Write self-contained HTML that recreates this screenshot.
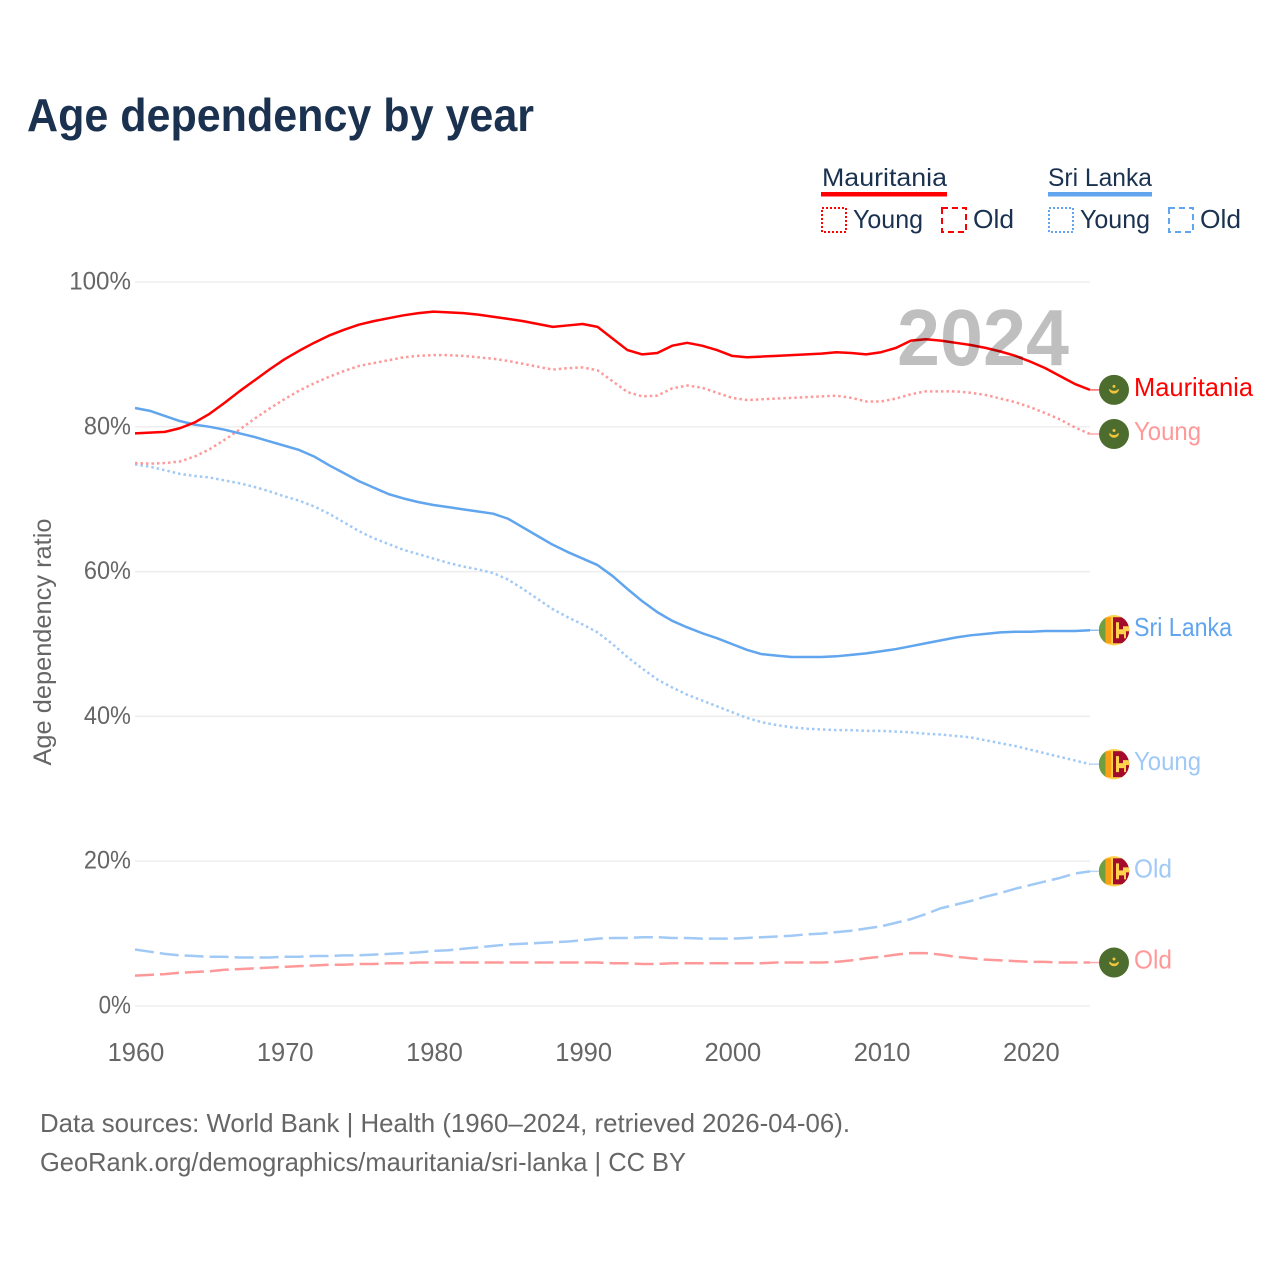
<!DOCTYPE html>
<html lang="en">
<head>
<meta charset="utf-8">
<title>Age dependency by year</title>
<style>
html,body{margin:0;padding:0;background:#fff;}
svg{display:block;font-family:"Liberation Sans",sans-serif;}
</style>
</head>
<body>
<svg id="chart" width="1280" height="1280" viewBox="0 0 1280 1280">
  <text x="27" y="131" font-size="46" font-weight="700" fill="#1a3250" textLength="507" lengthAdjust="spacingAndGlyphs">Age dependency by year</text>

  <g>
    <text x="822" y="186" font-size="25" fill="#1a3250" textLength="125" lengthAdjust="spacingAndGlyphs">Mauritania</text>
    <rect x="821" y="192" width="126" height="4.5" fill="#ff0000"/>
    <rect x="822" y="208" width="24" height="24" fill="none" stroke="#ff0000" stroke-width="2" stroke-dasharray="2 2"/>
    <text x="853" y="228" font-size="26" fill="#1a3250" textLength="70" lengthAdjust="spacingAndGlyphs">Young</text>
    <rect x="942" y="208" width="24" height="24" fill="none" stroke="#ff0000" stroke-width="2" stroke-dasharray="6 4"/>
    <text x="973" y="228" font-size="26" fill="#1a3250" textLength="41" lengthAdjust="spacingAndGlyphs">Old</text>

    <text x="1048" y="186" font-size="25" fill="#1a3250" textLength="104" lengthAdjust="spacingAndGlyphs">Sri Lanka</text>
    <rect x="1048" y="192" width="104" height="4.5" fill="#60a5ee"/>
    <rect x="1049" y="208" width="24" height="24" fill="none" stroke="#60a5ee" stroke-width="2" stroke-dasharray="2 2"/>
    <text x="1080" y="228" font-size="26" fill="#1a3250" textLength="70" lengthAdjust="spacingAndGlyphs">Young</text>
    <rect x="1169" y="208" width="24" height="24" fill="none" stroke="#60a5ee" stroke-width="2" stroke-dasharray="6 4"/>
    <text x="1200" y="228" font-size="26" fill="#1a3250" textLength="41" lengthAdjust="spacingAndGlyphs">Old</text>
  </g>

  <text transform="translate(51,642) rotate(-90)" text-anchor="middle" font-size="25" fill="#666666" textLength="247" lengthAdjust="spacingAndGlyphs">Age dependency ratio</text>

  <g id="grid"></g>
  <g id="yticks"></g>
  <g id="xticks"></g>
  <g id="series"></g>

  <text x="897" y="365" font-size="80" font-weight="700" fill="#000000" fill-opacity="0.25" textLength="172" lengthAdjust="spacingAndGlyphs">2024</text>

  <g id="endpoints"></g>

  <text x="40" y="1132" font-size="26" fill="#666666" textLength="810" lengthAdjust="spacingAndGlyphs">Data sources: World Bank | Health (1960–2024, retrieved 2026-04-06).</text>
  <text x="40" y="1171" font-size="26" fill="#666666" textLength="646" lengthAdjust="spacingAndGlyphs">GeoRank.org/demographics/mauritania/sri-lanka | CC BY</text>
</svg>
<script>
const startYear = 1960;
const yTickValues = [0, 20, 40, 60, 80, 100];
const yTickLabels = ['0%', '20%', '40%', '60%', '80%', '100%'];
const xTickLabels = [1960, 1970, 1980, 1990, 2000, 2010, 2020];

const mauritaniaTotal = [79.1,79.2,79.3,79.8,80.6,81.8,83.3,84.9,86.4,87.9,89.3,90.5,91.6,92.6,93.4,94.1,94.6,95.0,95.4,95.7,95.9,95.8,95.7,95.5,95.2,94.9,94.6,94.2,93.8,94.0,94.2,93.8,92.2,90.6,90.0,90.2,91.2,91.6,91.2,90.6,89.8,89.6,89.7,89.8,89.9,90.0,90.1,90.3,90.2,90.0,90.3,90.9,91.9,92.1,91.9,91.6,91.3,90.9,90.4,89.8,89.0,88.1,87.0,85.9,85.1];
const mauritaniaYoung = [75.0,74.9,75.0,75.2,75.9,76.9,78.2,79.6,81.1,82.5,83.8,85.0,86.0,86.9,87.7,88.4,88.8,89.2,89.6,89.8,89.9,89.9,89.8,89.6,89.4,89.1,88.7,88.3,87.9,88.1,88.2,87.8,86.3,84.8,84.2,84.3,85.3,85.7,85.4,84.7,84.0,83.7,83.8,83.9,84.0,84.1,84.2,84.3,84.0,83.5,83.5,83.9,84.5,84.9,84.9,84.9,84.7,84.4,83.9,83.4,82.7,81.9,81.0,79.9,79.0];
const mauritaniaOld = [4.2,4.3,4.4,4.6,4.7,4.8,5.0,5.1,5.2,5.3,5.4,5.5,5.6,5.7,5.7,5.8,5.8,5.9,5.9,6.0,6.0,6.0,6.0,6.0,6.0,6.0,6.0,6.0,6.0,6.0,6.0,6.0,5.9,5.9,5.8,5.8,5.9,5.9,5.9,5.9,5.9,5.9,5.9,6.0,6.0,6.0,6.0,6.1,6.3,6.6,6.8,7.1,7.3,7.3,7.1,6.8,6.6,6.4,6.3,6.2,6.1,6.1,6.0,6.0,6.0];
const sriLankaTotal = [82.6,82.2,81.5,80.8,80.3,80.0,79.6,79.1,78.6,78.0,77.4,76.8,75.9,74.7,73.6,72.5,71.6,70.7,70.1,69.6,69.2,68.9,68.6,68.3,68.0,67.3,66.1,64.9,63.7,62.7,61.8,60.9,59.4,57.6,55.9,54.4,53.2,52.3,51.5,50.8,50.0,49.2,48.6,48.4,48.2,48.2,48.2,48.3,48.5,48.7,49.0,49.3,49.7,50.1,50.5,50.9,51.2,51.4,51.6,51.7,51.7,51.8,51.8,51.8,51.9];
const sriLankaYoung = [74.8,74.5,74.0,73.5,73.2,73.0,72.6,72.2,71.7,71.1,70.4,69.8,69.0,68.0,66.8,65.6,64.6,63.8,63.0,62.4,61.8,61.2,60.7,60.3,59.8,58.9,57.6,56.2,54.8,53.7,52.7,51.6,50.0,48.2,46.6,45.1,44.0,43.0,42.2,41.4,40.6,39.8,39.2,38.8,38.5,38.3,38.2,38.1,38.1,38.0,38.0,37.9,37.8,37.6,37.5,37.3,37.1,36.7,36.3,35.9,35.4,34.9,34.4,33.9,33.4];
const sriLankaOld = [7.8,7.5,7.2,7.0,6.9,6.8,6.8,6.7,6.7,6.7,6.8,6.8,6.9,6.9,7.0,7.0,7.1,7.2,7.3,7.4,7.6,7.7,7.9,8.1,8.3,8.5,8.6,8.7,8.8,8.9,9.1,9.3,9.4,9.4,9.5,9.5,9.4,9.4,9.3,9.3,9.3,9.4,9.5,9.6,9.7,9.9,10.0,10.2,10.4,10.7,11.0,11.5,12.0,12.7,13.5,14.0,14.5,15.1,15.6,16.2,16.7,17.2,17.7,18.3,18.6];

const NS = 'http://www.w3.org/2000/svg';
const xScale = function (year) { return 135 + (year - 1960) * (955 / 64); };
const yScale = function (v) { return 1006 - v * 7.24; };

function mk(parent, tag, attrs) {
  const el = document.createElementNS(NS, tag);
  Object.keys(attrs).forEach(function (k) { el.setAttribute(k, attrs[k]); });
  parent.appendChild(el);
  return el;
}

const gridG = document.getElementById('grid');
const yG = document.getElementById('yticks');
const xG = document.getElementById('xticks');
const seriesG = document.getElementById('series');
const endG = document.getElementById('endpoints');

yTickValues.forEach(function (v, i) {
  const line = mk(gridG, 'line', {x1: 135, x2: 1090, y1: yScale(v), y2: yScale(v), stroke: '#eeeeee', 'stroke-width': 1.5});
  
  
  const t = mk(yG, 'text', {x: 131, y: yScale(v) + 7.5, 'text-anchor': 'end', 'font-size': 25, fill: '#666666', textLength: 14.7 * String(yTickLabels[i]).length + 3, lengthAdjust: 'spacingAndGlyphs'});
  t.textContent = yTickLabels[i];
  
  
});

xTickLabels.forEach(function (yr) {
  const t = mk(xG, 'text', {x: xScale(yr) + 1, y: 1061, 'text-anchor': 'middle', 'font-size': 25.5, fill: '#666666'});
  t.textContent = yr;
  
  
});

function drawLine(values, color, dash, name) {
  const d = values.map(function (v, i) {
    return (i ? 'L' : 'M') + xScale(startYear + i).toFixed(2) + ' ' + yScale(v).toFixed(2);
  }).join(' ');
  const attrs = {d: d, fill: 'none', stroke: color, 'stroke-width': 2.5, 'stroke-linejoin': 'round'};
  if (dash) attrs['stroke-dasharray'] = dash;
  const p = mk(seriesG, 'path', attrs);
  
  
}

drawLine(sriLankaOld, '#a0c9f5', '19 6', 'line-sri-lanka-old');
drawLine(mauritaniaOld, '#ff9999', '19 6', 'line-mauritania-old');
drawLine(sriLankaYoung, '#a0c9f5', '2.5 3', 'line-sri-lanka-young');
drawLine(mauritaniaYoung, '#ff9999', '2.5 3', 'line-mauritania-young');
drawLine(sriLankaTotal, '#60a5ee', null, 'line-sri-lanka-total');
drawLine(mauritaniaTotal, '#ff0000', null, 'line-mauritania-total');

let clipCount = 0;
function flagMauritania(cy) {
  const g = mk(endG, 'g', {});
  
  
  mk(g, 'circle', {cx: 1114, cy: cy, r: 15, fill: '#4d6d2e'});
  mk(g, 'path', {d: 'M1109.5 ' + (cy - 0.5) + ' a4.6 4.6 0 0 0 9 0 a5.8 5.8 0 0 1 -9 0 Z', fill: '#f2c53d', stroke: '#f2c53d', 'stroke-width': 1.2});
  mk(g, 'circle', {cx: 1114, cy: cy - 3.5, r: 1.5, fill: '#f2c53d'});
}
function flagSriLanka(cy) {
  clipCount += 1;
  const id = 'flag-clip-' + clipCount;
  const cp = mk(endG, 'clipPath', {id: id});
  mk(cp, 'circle', {cx: 1114, cy: cy, r: 15.2});
  const g = mk(endG, 'g', {'clip-path': 'url(#' + id + ')'});
  
  
  mk(g, 'rect', {x: 1098, y: cy - 16, width: 32, height: 32, fill: '#fdd34e'});
  mk(g, 'rect', {x: 1099, y: cy - 13, width: 6.7, height: 26, fill: '#6e9f40'});
  mk(g, 'rect', {x: 1106, y: cy - 13, width: 5.2, height: 26, fill: '#ff9e15'});
  mk(g, 'rect', {x: 1113, y: cy - 13, width: 17, height: 26, fill: '#a30a2c'});
  mk(g, 'path', {d: 'M1116 ' + (cy - 8) + ' h3 v7 h4 v-3 h6 v5 h-3 v7 h-2 v-4 h-5 v4 h-3 Z', fill: '#fdd34e'});
}

function endpoint(values, flag, label, color, lineColor, name) {
  const last = values[values.length - 1];
  const cy = yScale(last);
  const c = mk(endG, 'line', {x1: 1090, x2: 1100, y1: cy, y2: cy, stroke: lineColor, 'stroke-width': 1.5});
  
  
  flag(cy);
  const widths = {Mauritania: 119, Young: 67, 'Sri Lanka': 98, Old: 38};
  const t = mk(endG, 'text', {x: 1134, y: cy + 6, 'font-size': 26, fill: color, textLength: widths[label], lengthAdjust: 'spacingAndGlyphs'});
  t.textContent = label;
  
  
}

endpoint(mauritaniaTotal, flagMauritania, 'Mauritania', '#ff0000', '#ff6666', 'end-mauritania-total');
endpoint(mauritaniaYoung, flagMauritania, 'Young', '#ff9999', '#ffaaaa', 'end-mauritania-young');
endpoint(sriLankaTotal, flagSriLanka, 'Sri Lanka', '#60a5ee', '#90c0f2', 'end-sri-lanka-total');
endpoint(sriLankaYoung, flagSriLanka, 'Young', '#a0c9f5', '#b8d6f7', 'end-sri-lanka-young');
endpoint(sriLankaOld, flagSriLanka, 'Old', '#a0c9f5', '#b8d6f7', 'end-sri-lanka-old');
endpoint(mauritaniaOld, flagMauritania, 'Old', '#ff9999', '#ffaaaa', 'end-mauritania-old');
</script>
</body>
</html>
